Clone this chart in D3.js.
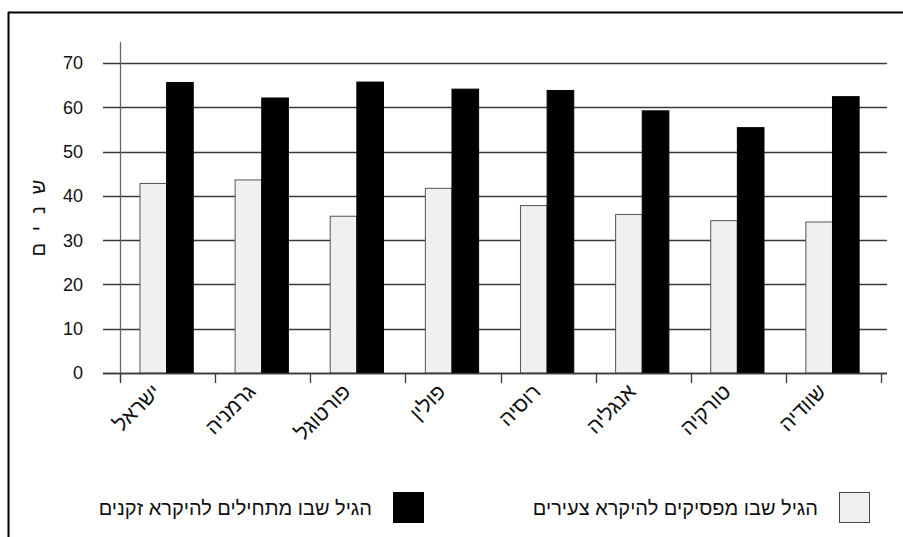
<!DOCTYPE html>
<html>
<head>
<meta charset="utf-8">
<script src="https://cdn.jsdelivr.net/npm/d3@7"></script>
<style>
body { margin: 0; background: #fff; }
svg text { font-family: "Liberation Sans", Arial, sans-serif; fill: #111; }
</style>
</head>
<body>
<div id="chart"></div>
<script>
// data
var countries = ["ישראל", "גרמניה", "פורטוגל", "פולין", "רוסיה", "אנגליה", "טורקיה", "שוודיה"];
var youngEnds = [42.8, 43.6, 35.4, 41.7, 37.8, 35.8, 34.4, 34.1];
var oldStarts = [65.6, 62.1, 65.7, 64.1, 63.8, 59.2, 55.4, 62.4];
var seriesNames = ["הגיל שבו מפסיקים להיקרא צעירים", "הגיל שבו מתחילים להיקרא זקנים"];
var yTicks = [0, 10, 20, 30, 40, 50, 60, 70];
var yLabel = "שנים";

var width = 903, height = 537;
var svg = d3.select("#chart").append("svg")
	.attr("width", width).attr("height", height);

// outer frame (only top + left edges show)
svg.append("line").attr("x1", 8).attr("x2", width).attr("y1", 12.5).attr("y2", 12.5)
	.style("stroke", "#000").style("stroke-width", 2);
svg.append("line").attr("x1", 8.5).attr("x2", 8.5).attr("y1", 12).attr("y2", height)
	.style("stroke", "#000").style("stroke-width", 2);

var x0 = d3.scaleBand().domain(countries).range([120, 881]).padding(0);
var bw = x0.bandwidth();
var x1 = d3.scaleBand().domain([0, 1]).range([bw * 0.21, bw * 0.77]).padding(0);
var y = d3.scaleLinear().domain([0, 70]).range([373, 63]);

// gridlines
svg.append("g").selectAll("line").data(yTicks).enter().append("line")
	.attr("x1", 103).attr("x2", 887)
	.attr("y1", function (d) { return Math.round(y(d)) + 0.5; })
	.attr("y2", function (d) { return Math.round(y(d)) + 0.5; })
	.style("stroke", "#3a3a3a").style("stroke-width", 1.3);

// y axis line
svg.append("line").attr("x1", 120.5).attr("x2", 120.5).attr("y1", 42).attr("y2", 381)
	.style("stroke", "#666").style("stroke-width", 1.3);

// y tick labels
svg.append("g").selectAll("text").data(yTicks).enter().append("text")
	.attr("x", 83).attr("y", function (d) { return y(d); })
	.attr("dy", "0.36em")
	.attr("text-anchor", "end")
	.style("font-size", "18px")
	.text(function (d) { return d; });

// y title, stacked letters
svg.append("text")
	.attr("transform", "translate(45,212) rotate(-90)")
	.attr("text-anchor", "middle")
	.style("font-size", "20px")
	.style("letter-spacing", "12px")
	.text(yLabel);

// bars
var rows = countries.map(function (c, i) { return { c: c, v: [youngEnds[i], oldStarts[i]] }; });
var groups = svg.append("g").selectAll("g").data(rows).enter().append("g")
	.attr("transform", function (d) { return "translate(" + x0(d.c) + ",0)"; });
groups.selectAll("rect").data(function (d) { return d.v.map(function (v, k) { return { k: k, v: v }; }); })
	.enter().append("rect")
	.attr("x", function (d) { return x1(d.k); })
	.attr("width", x1.bandwidth())
	.attr("y", function (d) { return y(d.v); })
	.attr("height", function (d) { return y(0) - y(d.v); })
	.style("fill", function (d) { return d.k == 0 ? "#eff0ef" : "#000"; })
	.style("stroke", function (d) { return d.k == 0 ? "#555" : "#000"; })
	.style("stroke-width", 1);

// x axis line and ticks
svg.append("line").attr("x1", 103).attr("x2", 887).attr("y1", 373.5).attr("y2", 373.5)
	.style("stroke", "#3a3a3a").style("stroke-width", 1.3);
var tickPos = countries.map(function (c) { return x0(c); }).concat([x0.range()[1]]);
svg.append("g").selectAll("line").data(tickPos).enter().append("line")
	.attr("x1", function (d) { return Math.round(d) + 0.5; })
	.attr("x2", function (d) { return Math.round(d) + 0.5; })
	.attr("y1", 373).attr("y2", 383)
	.style("stroke", "#3a3a3a").style("stroke-width", 1.3);

// x labels rotated
svg.append("g").selectAll("text").data(countries).enter().append("text")
	.attr("transform", function (d) { return "translate(" + (x0(d) + bw / 2 - 6) + ",393) rotate(-45)"; })
	.attr("text-anchor", "end")
	.style("font-size", "21px")
	.text(function (d) { return d; });

// legend
var legendX = [839, 393];
var legend = svg.append("g").selectAll("g").data(seriesNames).enter().append("g")
	.attr("transform", function (d, i) { return "translate(" + legendX[i] + ",492)"; });
legend.append("rect")
	.attr("x", 0.5).attr("y", 0.5).attr("width", 30).attr("height", 30)
	.style("fill", function (d, i) { return i == 0 ? "#eff0ef" : "#000"; })
	.style("stroke", function (d, i) { return i == 0 ? "#444" : "#000"; });
legend.append("text")
	.attr("x", -21).attr("y", 16).attr("dy", "0.35em")
	.attr("text-anchor", "end")
	.style("font-size", "20px")
	.text(function (d) { return d; });
</script>
</body>
</html>
